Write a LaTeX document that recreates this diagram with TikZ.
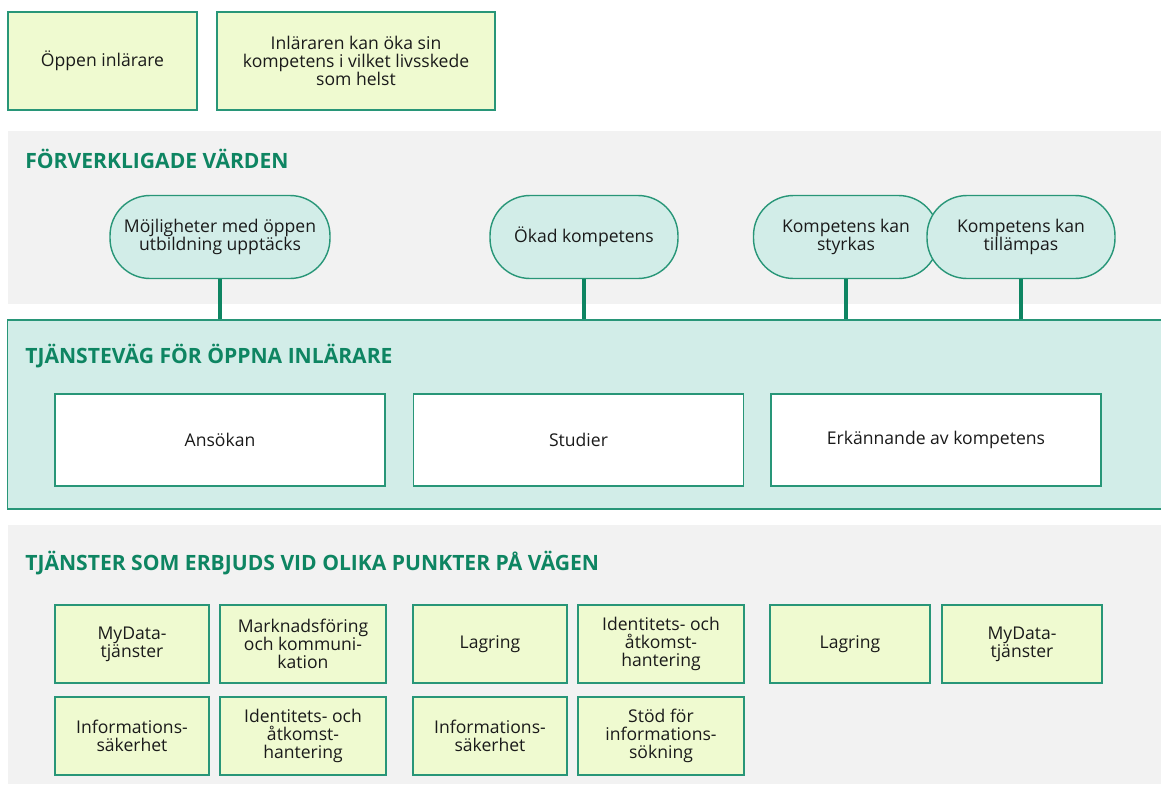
\documentclass[tikz,border=0pt]{standalone}
\usepackage{fontspec}
\setmainfont{Open Sans}
\usepackage{tikz}
\usetikzlibrary{positioning,calc}
\definecolor{PathGreen}{RGB}{14,133,98}
\definecolor{EdgeGreen}{RGB}{40,150,120}
\definecolor{LimeFill}{RGB}{239,250,208}
\definecolor{MintFill}{RGB}{210,237,232}
\definecolor{PanelGray}{RGB}{242,242,242}
\definecolor{InkGray}{RGB}{26,26,26}

\begin{document}
\begin{tikzpicture}[x=0.02cm,y=-0.02cm,
    txt/.style={font=\fontsize{10}{10.3}\selectfont,text=InkGray,align=center},
    limebox/.style={txt,draw=EdgeGreen,fill=LimeFill,line width=0.8pt,inner sep=0pt},
    pill/.style={txt,draw=EdgeGreen,fill=MintFill,line width=0.8pt,rounded corners=0.8cm,
      minimum height=1.66cm,inner sep=0pt},
    whitebox/.style={txt,draw=EdgeGreen,fill=white,line width=0.8pt,
      minimum width=6.6cm,minimum height=1.84cm,inner sep=0pt},
    heading/.style={font=\fontsize{12}{14}\bfseries\selectfont,text=PathGreen,anchor=west,inner sep=0pt},
    stem/.style={PathGreen,line width=2pt}]
  \useasboundingbox (0,0) rectangle (1161,785);

  % learner
  \node[limebox,minimum width=3.78cm,minimum height=1.96cm] (learner) at (102.5,61) {Öppen inlärare};
  \node[limebox,minimum width=5.56cm,minimum height=1.96cm] (anyage) at (356,61)
    {Inläraren kan öka sin\\kompetens i vilket livsskede\\som helst};

  % realised values
  \fill[PanelGray] (8,131) rectangle (1161,304);
  \node[heading] (valuesTitle) at (25,159) {FÖRVERKLIGADE VÄRDEN};
  \node[pill,minimum width=4.4cm] (discover) at (220,237) {Möjligheter med öppen\\utbildning upptäcks};
  \node[pill,minimum width=3.76cm] (grow) at (584,237) {Ökad kompetens};
  \node[pill,minimum width=3.7cm] (prove) at (846,237) {Kompetens kan\\styrkas};
  \node[pill,minimum width=3.76cm] (apply) at (1021,237) {Kompetens kan\\tillämpas};

  % service path
  \node[draw=EdgeGreen,fill=MintFill,line width=0.8pt,minimum width=23.18cm,minimum height=3.78cm,
    inner sep=0pt] (path) at (587,414.5) {};
  \node[heading] (pathTitle) at (25,356) {TJÄNSTEVÄG FÖR ÖPPNA INLÄRARE};
  \node[whitebox] (apply1) at (220,440) {Ansökan};
  \node[whitebox] (study) at (578.5,440) {Studier};
  \node[whitebox] (recog) at (936,440) {Erkännande av kompetens};

  \foreach \v in {discover,grow,prove,apply}
    \draw[stem] (\v.south) -- (\v.south |- path.north);

  % services along the way
  \fill[PanelGray] (8,525) rectangle (1161,784);
  \node[heading] (servTitle) at (25,563) {TJÄNSTER SOM ERBJUDS VID OLIKA PUNKTER PÅ VÄGEN};
  \tikzset{narrow/.style={limebox,minimum width=3.08cm,minimum height=1.56cm},
    wide/.style={limebox,minimum width=3.32cm,minimum height=1.56cm},
    wider/.style={limebox,minimum width=3.2cm,minimum height=1.56cm}}
  \node[narrow] (mydataA) at (132,644) {MyData-\\tjänster};
  \node[wide] (market) at (303,644) {Marknadsföring\\och kommuni-\\kation};
  \node[narrow] (infosecA) at (132,736) {Informations-\\säkerhet};
  \node[wide] (idamA) at (303,736) {Identitets- och\\åtkomst-\\hantering};
  \node[narrow] (storeA) at (490,644) {Lagring};
  \node[wide] (idamB) at (661,644) {Identitets- och\\åtkomst-\\hantering};
  \node[narrow] (infosecB) at (490,736) {Informations-\\säkerhet};
  \node[wide] (search) at (661,736) {Stöd för\\informations-\\sökning};
  \node[wider] (storeB) at (850,644) {Lagring};
  \node[wider] (mydataB) at (1022,644) {MyData-\\tjänster};
\end{tikzpicture}
\end{document}
